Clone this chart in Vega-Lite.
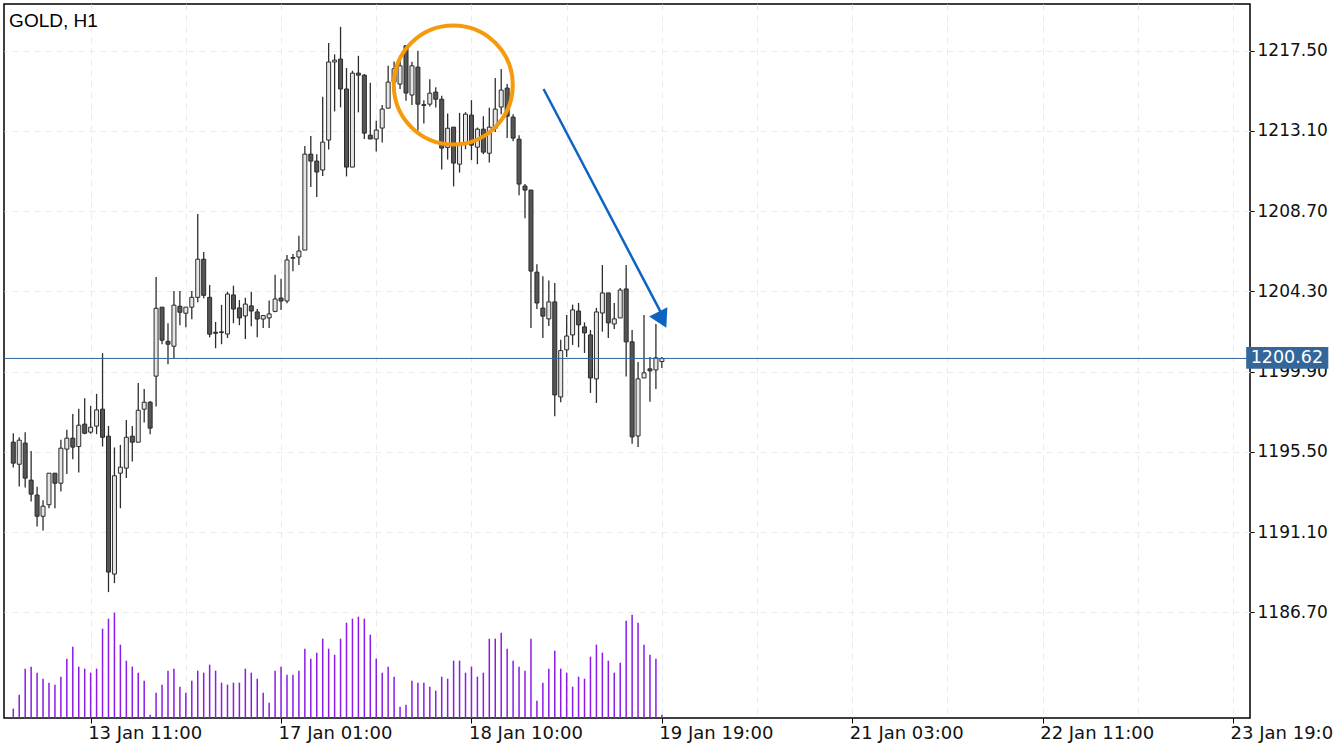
{
  "$schema": "https://vega.github.io/schema/vega-lite/v6.json",
  "width": 1246,
  "height": 714,
  "autosize": {"type": "none"},
  "padding": {"left": 4, "top": 4, "right": 84, "bottom": 32},
  "background": "#ffffff",
  "config": {
    "view": {"stroke": "#000000", "strokeWidth": 1.5},
    "axis": {"labelFont": "DejaVu Sans", "labelFontSize": 17, "labelColor": "#111111", "domain": false, "gridColor": "#ebebeb", "gridDash": [6, 5], "gridWidth": 1, "tickColor": "#000000", "tickWidth": 1}
  },
  "datasets": {
    "bars": [
      {"i":0,"o":1196.03,"h":1196.52,"l":1194.64,"c":1194.88,"v":224},
      {"i":1,"o":1194.82,"h":1196.30,"l":1193.60,"c":1196.14,"v":560},
      {"i":2,"o":1195.98,"h":1196.58,"l":1193.55,"c":1194.06,"v":1184},
      {"i":3,"o":1193.95,"h":1195.55,"l":1192.78,"c":1193.18,"v":1232},
      {"i":4,"o":1193.13,"h":1193.58,"l":1191.41,"c":1191.97,"v":1088},
      {"i":5,"o":1191.97,"h":1192.85,"l":1191.19,"c":1192.52,"v":944},
      {"i":6,"o":1192.60,"h":1194.33,"l":1192.41,"c":1194.33,"v":848},
      {"i":7,"o":1194.33,"h":1194.33,"l":1192.41,"c":1193.78,"v":800},
      {"i":8,"o":1193.78,"h":1196.16,"l":1193.33,"c":1195.70,"v":992},
      {"i":9,"o":1195.65,"h":1196.71,"l":1194.28,"c":1196.25,"v":1424},
      {"i":10,"o":1196.25,"h":1197.58,"l":1195.10,"c":1195.76,"v":1712},
      {"i":11,"o":1195.79,"h":1197.86,"l":1194.37,"c":1196.96,"v":1232},
      {"i":12,"o":1197.02,"h":1198.44,"l":1196.47,"c":1196.52,"v":1184},
      {"i":13,"o":1196.58,"h":1198.02,"l":1196.49,"c":1196.85,"v":1088},
      {"i":14,"o":1196.91,"h":1198.68,"l":1196.47,"c":1197.80,"v":1184},
      {"i":15,"o":1197.84,"h":1200.91,"l":1195.79,"c":1196.30,"v":2144},
      {"i":16,"o":1196.36,"h":1196.92,"l":1187.81,"c":1188.91,"v":2384},
      {"i":17,"o":1188.80,"h":1195.74,"l":1188.30,"c":1194.19,"v":2528},
      {"i":18,"o":1194.33,"h":1195.88,"l":1192.41,"c":1194.66,"v":1760},
      {"i":19,"o":1194.61,"h":1197.25,"l":1194.06,"c":1196.30,"v":1376},
      {"i":20,"o":1196.36,"h":1196.92,"l":1194.97,"c":1196.03,"v":1232},
      {"i":21,"o":1196.03,"h":1199.28,"l":1196.03,"c":1197.78,"v":1088},
      {"i":22,"o":1197.84,"h":1198.95,"l":1197.11,"c":1198.22,"v":896},
      {"i":23,"o":1198.22,"h":1198.29,"l":1196.47,"c":1196.80,"v":80},
      {"i":24,"o":1199.65,"h":1205.09,"l":1197.98,"c":1203.37,"v":608},
      {"i":25,"o":1203.43,"h":1203.43,"l":1201.40,"c":1201.62,"v":800},
      {"i":26,"o":1201.56,"h":1202.55,"l":1200.30,"c":1201.40,"v":1136},
      {"i":27,"o":1201.29,"h":1204.32,"l":1200.63,"c":1203.54,"v":1184},
      {"i":28,"o":1203.48,"h":1204.32,"l":1202.44,"c":1203.15,"v":752},
      {"i":29,"o":1203.10,"h":1203.43,"l":1202.33,"c":1203.43,"v":608},
      {"i":30,"o":1203.43,"h":1204.32,"l":1202.77,"c":1203.97,"v":896},
      {"i":31,"o":1203.97,"h":1208.54,"l":1203.70,"c":1206.06,"v":1136},
      {"i":32,"o":1206.06,"h":1206.46,"l":1203.92,"c":1204.08,"v":1088},
      {"i":33,"o":1203.97,"h":1204.65,"l":1201.78,"c":1201.95,"v":1280},
      {"i":34,"o":1202.06,"h":1202.62,"l":1201.18,"c":1202.00,"v":1136},
      {"i":35,"o":1202.04,"h":1203.56,"l":1201.40,"c":1202.08,"v":848},
      {"i":36,"o":1201.96,"h":1204.28,"l":1201.74,"c":1204.15,"v":800},
      {"i":37,"o":1204.10,"h":1204.61,"l":1202.55,"c":1203.33,"v":848},
      {"i":38,"o":1203.39,"h":1203.82,"l":1202.44,"c":1202.84,"v":848},
      {"i":39,"o":1202.95,"h":1203.95,"l":1201.69,"c":1203.60,"v":1184},
      {"i":40,"o":1203.50,"h":1204.28,"l":1202.38,"c":1203.22,"v":1088},
      {"i":41,"o":1203.17,"h":1203.33,"l":1201.78,"c":1202.78,"v":944},
      {"i":42,"o":1202.78,"h":1203.00,"l":1202.29,"c":1202.97,"v":608},
      {"i":43,"o":1202.84,"h":1203.79,"l":1202.29,"c":1203.06,"v":368},
      {"i":44,"o":1203.20,"h":1205.21,"l":1203.15,"c":1203.88,"v":1136},
      {"i":45,"o":1203.93,"h":1204.99,"l":1203.28,"c":1203.77,"v":1232},
      {"i":46,"o":1203.77,"h":1206.29,"l":1203.64,"c":1206.02,"v":1040},
      {"i":47,"o":1206.11,"h":1206.34,"l":1205.40,"c":1206.15,"v":1040},
      {"i":48,"o":1206.18,"h":1207.35,"l":1205.74,"c":1206.51,"v":1136},
      {"i":49,"o":1206.56,"h":1212.26,"l":1206.56,"c":1211.82,"v":1664},
      {"i":50,"o":1211.82,"h":1212.81,"l":1210.02,"c":1211.44,"v":1424},
      {"i":51,"o":1211.44,"h":1211.82,"l":1209.47,"c":1210.84,"v":1568},
      {"i":52,"o":1210.95,"h":1214.97,"l":1210.62,"c":1212.48,"v":1904},
      {"i":53,"o":1212.59,"h":1217.91,"l":1212.08,"c":1216.87,"v":1664},
      {"i":54,"o":1216.87,"h":1217.29,"l":1214.16,"c":1216.97,"v":1520},
      {"i":55,"o":1217.03,"h":1218.80,"l":1214.38,"c":1215.39,"v":1904},
      {"i":56,"o":1215.39,"h":1216.54,"l":1210.60,"c":1211.11,"v":2288},
      {"i":57,"o":1211.11,"h":1216.39,"l":1211.11,"c":1216.26,"v":2384},
      {"i":58,"o":1216.26,"h":1217.21,"l":1214.11,"c":1216.15,"v":2432},
      {"i":59,"o":1216.15,"h":1216.21,"l":1212.65,"c":1212.97,"v":2384},
      {"i":60,"o":1212.86,"h":1215.73,"l":1212.65,"c":1212.65,"v":2000},
      {"i":61,"o":1212.65,"h":1213.65,"l":1211.97,"c":1213.14,"v":1424},
      {"i":62,"o":1213.25,"h":1214.51,"l":1212.46,"c":1214.29,"v":1088},
      {"i":63,"o":1214.34,"h":1216.66,"l":1214.34,"c":1215.77,"v":1232},
      {"i":64,"o":1215.77,"h":1216.90,"l":1215.30,"c":1216.50,"v":992},
      {"i":65,"o":1215.66,"h":1217.21,"l":1215.39,"c":1216.66,"v":272},
      {"i":66,"o":1217.76,"h":1217.76,"l":1214.75,"c":1215.17,"v":320},
      {"i":67,"o":1215.06,"h":1216.88,"l":1214.51,"c":1216.66,"v":896},
      {"i":68,"o":1216.59,"h":1217.49,"l":1213.10,"c":1214.56,"v":848},
      {"i":69,"o":1214.53,"h":1214.78,"l":1213.50,"c":1214.49,"v":848},
      {"i":70,"o":1214.56,"h":1215.93,"l":1214.43,"c":1215.16,"v":752},
      {"i":71,"o":1215.22,"h":1215.49,"l":1214.38,"c":1214.83,"v":656},
      {"i":72,"o":1214.83,"h":1215.02,"l":1210.98,"c":1212.15,"v":992},
      {"i":73,"o":1212.19,"h":1214.05,"l":1211.53,"c":1213.24,"v":944},
      {"i":74,"o":1213.30,"h":1213.30,"l":1210.05,"c":1211.33,"v":1376},
      {"i":75,"o":1211.27,"h":1214.08,"l":1210.81,"c":1212.37,"v":1376},
      {"i":76,"o":1212.46,"h":1214.12,"l":1212.09,"c":1214.01,"v":1088},
      {"i":77,"o":1213.96,"h":1214.78,"l":1211.49,"c":1212.31,"v":1232},
      {"i":78,"o":1212.20,"h":1213.28,"l":1211.27,"c":1213.19,"v":992},
      {"i":79,"o":1213.19,"h":1213.90,"l":1211.82,"c":1211.93,"v":1088},
      {"i":80,"o":1211.87,"h":1214.36,"l":1211.36,"c":1213.30,"v":1904},
      {"i":81,"o":1213.24,"h":1216.00,"l":1213.04,"c":1214.29,"v":1904},
      {"i":82,"o":1214.40,"h":1216.48,"l":1214.01,"c":1215.33,"v":2048},
      {"i":83,"o":1215.44,"h":1215.66,"l":1212.70,"c":1213.90,"v":1664},
      {"i":84,"o":1213.85,"h":1214.01,"l":1212.53,"c":1212.70,"v":1376},
      {"i":85,"o":1212.64,"h":1212.86,"l":1209.56,"c":1210.18,"v":1232},
      {"i":86,"o":1210.07,"h":1210.18,"l":1208.31,"c":1209.85,"v":1136},
      {"i":87,"o":1209.85,"h":1209.85,"l":1202.29,"c":1205.41,"v":1904},
      {"i":88,"o":1205.35,"h":1205.79,"l":1203.33,"c":1203.66,"v":416},
      {"i":89,"o":1203.38,"h":1205.13,"l":1201.74,"c":1202.94,"v":848},
      {"i":90,"o":1202.79,"h":1204.89,"l":1202.40,"c":1203.72,"v":1184},
      {"i":91,"o":1203.72,"h":1204.76,"l":1197.45,"c":1198.62,"v":1616},
      {"i":92,"o":1198.51,"h":1201.64,"l":1198.22,"c":1201.05,"v":1184},
      {"i":93,"o":1201.09,"h":1203.00,"l":1200.70,"c":1201.85,"v":1088},
      {"i":94,"o":1201.91,"h":1203.57,"l":1201.36,"c":1203.28,"v":752},
      {"i":95,"o":1203.22,"h":1203.66,"l":1201.23,"c":1202.46,"v":992},
      {"i":96,"o":1202.35,"h":1202.60,"l":1200.92,"c":1202.02,"v":944},
      {"i":97,"o":1201.91,"h":1202.18,"l":1198.73,"c":1199.55,"v":1472},
      {"i":98,"o":1199.50,"h":1203.39,"l":1198.18,"c":1203.17,"v":1760},
      {"i":99,"o":1203.11,"h":1205.74,"l":1202.09,"c":1204.21,"v":1568},
      {"i":100,"o":1204.21,"h":1204.21,"l":1201.74,"c":1202.57,"v":1376},
      {"i":101,"o":1202.51,"h":1203.66,"l":1202.24,"c":1202.79,"v":1088},
      {"i":102,"o":1202.84,"h":1204.48,"l":1202.84,"c":1204.37,"v":1328},
      {"i":103,"o":1204.43,"h":1205.74,"l":1199.63,"c":1201.53,"v":2336},
      {"i":104,"o":1201.53,"h":1202.18,"l":1195.94,"c":1196.32,"v":2480},
      {"i":105,"o":1196.37,"h":1200.43,"l":1195.77,"c":1199.50,"v":2288},
      {"i":106,"o":1199.55,"h":1203.00,"l":1199.55,"c":1199.83,"v":1760},
      {"i":107,"o":1200.05,"h":1200.70,"l":1198.24,"c":1199.94,"v":1520},
      {"i":108,"o":1199.99,"h":1202.51,"l":1198.95,"c":1200.65,"v":1424},
      {"i":109,"o":1200.45,"h":1200.70,"l":1200.10,"c":1200.62,"v":80}
    ]
  },
  "data": {"name": "bars"},
  "layer": [
    {
      "mark": {"type": "bar", "orient": "vertical", "size": 1.5, "color": "#8b1be6"},
      "encoding": {
        "x": {"field": "i", "type": "quantitative", "scale": {"domain": [-0.72, 207], "nice": false, "zero": false},
          "axis": {"title": null, "orient": "bottom", "values": [13, 29, 45, 61, 77, 93, 109, 125, 141, 157, 173, 189, 205],
            "labelExpr": "datum.value == 13 ? '13 Jan 11:00' : datum.value == 45 ? '17 Jan 01:00' : datum.value == 77 ? '18 Jan 10:00' : datum.value == 109 ? '19 Jan 19:00' : datum.value == 141 ? '21 Jan 03:00' : datum.value == 173 ? '22 Jan 11:00' : datum.value == 205 ? '23 Jan 19:00' : ''",
            "grid": true, "ticks": true, "tickSize": 5, "labelAlign": "left", "labelBaseline": "top", "labelPadding": 1, "labelOffset": -3, "labelFontSize": 18, "labelFlush": false, "labelOverlap": false, "labelBound": false,
            "tickOpacity": {"condition": {"test": "indexof([13,45,77,109,141,173,205], datum.value) >= 0", "value": 1}, "value": 0}}},
        "y": {"field": "v", "type": "quantitative", "scale": {"domain": [0, 17136], "nice": false}, "axis": null}
      }
    },
    {
      "layer": [
        {
          "mark": {"type": "rule", "color": "#2e2e2e", "strokeWidth": 1.3},
          "encoding": {
            "x": {"field": "i", "type": "quantitative", "scale": {"domain": [-0.72, 207], "nice": false, "zero": false}},
            "y": {"field": "l", "type": "quantitative", "scale": {"domain": [1180.91, 1220.05], "nice": false, "zero": false},
              "axis": {"title": null, "orient": "right", "values": [1186.7, 1191.1, 1195.5, 1199.9, 1204.3, 1208.7, 1213.1, 1217.5], "format": ".2f", "grid": true, "tickSize": 4, "labelPadding": 3, "labelBaseline": "middle"}},
            "y2": {"field": "h"}
          }
        },
        {
          "mark": {"type": "bar", "orient": "vertical", "size": 4, "stroke": "#2a2a2a", "strokeWidth": 1},
          "encoding": {
            "x": {"field": "i", "type": "quantitative"},
            "y": {"field": "o", "type": "quantitative"},
            "y2": {"field": "c"},
            "fill": {"condition": {"test": "datum.c >= datum.o", "value": "#e6e6e6"}, "value": "#555555"}
          }
        },
        {
          "data": {"values": [{}]},
          "mark": {"type": "rule", "color": "#33669a", "strokeWidth": 1},
          "encoding": {"y": {"datum": 1200.62, "type": "quantitative"}}
        },
        {
          "data": {"values": [{}]},
          "mark": {"type": "rect", "color": "#33669a"},
          "encoding": {
            "x": {"datum": 207.2, "type": "quantitative"},
            "x2": {"datum": 221},
            "y": {"datum": 1201.25, "type": "quantitative"},
            "y2": {"datum": 1200.05}
          }
        },
        {
          "data": {"values": [{"label": "1200.62"}]},
          "mark": {"type": "text", "color": "#ffffff", "font": "DejaVu Sans", "fontSize": 17.5, "align": "left", "baseline": "middle"},
          "encoding": {
            "x": {"datum": 207.95, "type": "quantitative"},
            "y": {"datum": 1200.64, "type": "quantitative"},
            "text": {"field": "label"}
          }
        },
        {
          "data": {"values": [{"label": "GOLD, H1"}]},
          "mark": {"type": "text", "color": "#000000", "font": "Liberation Sans", "fontSize": 19, "align": "left", "baseline": "alphabetic"},
          "encoding": {
            "x": {"datum": -0.7, "type": "quantitative"},
            "y": {"datum": 1218.8, "type": "quantitative"},
            "text": {"field": "label"}
          }
        },
        {
          "data": {"values": [{}]},
          "mark": {"type": "point", "shape": "circle", "filled": false, "stroke": "#f59a0c", "strokeWidth": 4, "size": 14161, "opacity": 1},
          "encoding": {
            "x": {"datum": 73.95, "type": "quantitative"},
            "y": {"datum": 1215.61, "type": "quantitative"}
          }
        },
        {
          "data": {"values": [{}]},
          "mark": {"type": "rule", "color": "#0c63c2", "strokeWidth": 2.5},
          "encoding": {
            "x": {"datum": 89.12, "type": "quantitative"},
            "y": {"datum": 1215.39, "type": "quantitative"},
            "x2": {"datum": 108.9},
            "y2": {"datum": 1203.1}
          }
        },
        {
          "data": {"values": [{}]},
          "mark": {"type": "point", "shape": "triangle-down", "filled": true, "color": "#0c63c2", "size": 420, "angle": 333, "opacity": 1},
          "encoding": {
            "x": {"datum": 109.07, "type": "quantitative"},
            "y": {"datum": 1202.74, "type": "quantitative"}
          }
        }
      ]
    }
  ],
  "resolve": {"scale": {"y": "independent"}}
}
